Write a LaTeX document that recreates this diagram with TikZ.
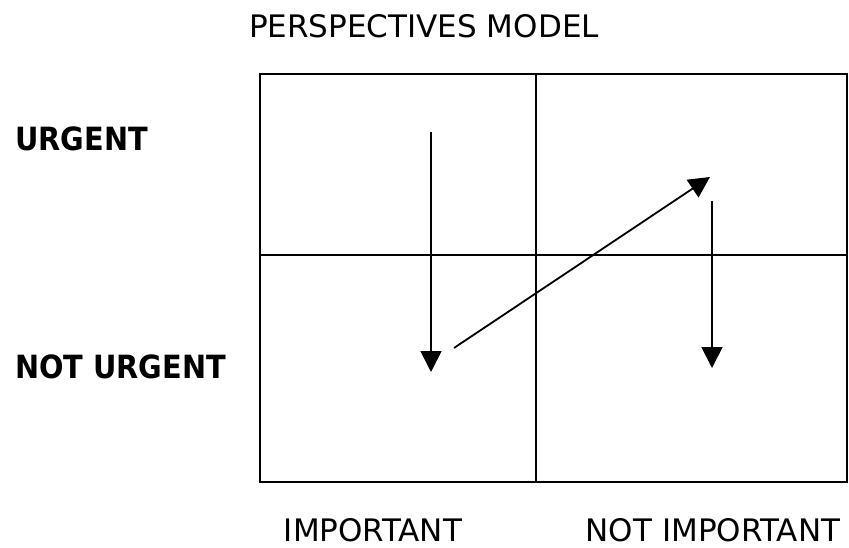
\documentclass[tikz,border=0pt]{standalone}
\usepackage{fontspec}
\setmainfont{DejaVu Sans}
\newfontfamily\condbold{DejaVu Sans Condensed}
\usepackage{tikz}
\usetikzlibrary{arrows.meta}
\tikzset{
	label_n/.style = {inner sep=0pt, font=\fontsize{31}{36}\selectfont},
	label_b/.style = {inner sep=0pt, anchor=west, font=\fontsize{32}{38}\selectfont\condbold\bfseries},
	frame/.style = {draw=black, line width=2.8pt},
	divider/.style = {draw=black, line width=1.8pt},
	move/.style = {draw=black, line width=1.8pt, -{Triangle[length=21pt,width=21pt]}}
}
\begin{document}
\begin{tikzpicture}[x=1pt,y=-1pt]
\useasboundingbox (0,0) rectangle (849,548);
% grid
\coordinate (nw) at (260,74);
\coordinate (se) at (847,482);
\coordinate (top) at (536,74);
\coordinate (bot) at (536,482);
\coordinate (lft) at (260,255);
\coordinate (rgt) at (847,255);
\draw [divider] (top) -- (bot);
\draw [divider] (lft) -- (rgt);
\draw [frame] (nw) rectangle (se);
% labels
\node [label_n] (title) at (424,26) {PERSPECTIVES MODEL};
\node [label_b] (urg) at (15,139) {URGENT};
\node [label_b] (nurg) at (15,367) {NOT URGENT};
\node [label_n] (imp) at (373,530) {IMPORTANT};
\node [label_n] (nimp) at (713,530) {NOT IMPORTANT};
% moves
\coordinate (a1) at (431,132);
\coordinate (a2) at (431,372);
\coordinate (b1) at (454,348);
\coordinate (b2) at (710,177);
\coordinate (c1) at (712,201);
\coordinate (c2) at (712,368);
\draw [move] (a1) -- (a2);
\draw [move] (b1) -- (b2);
\draw [move] (c1) -- (c2);
\end{tikzpicture}
\end{document}
